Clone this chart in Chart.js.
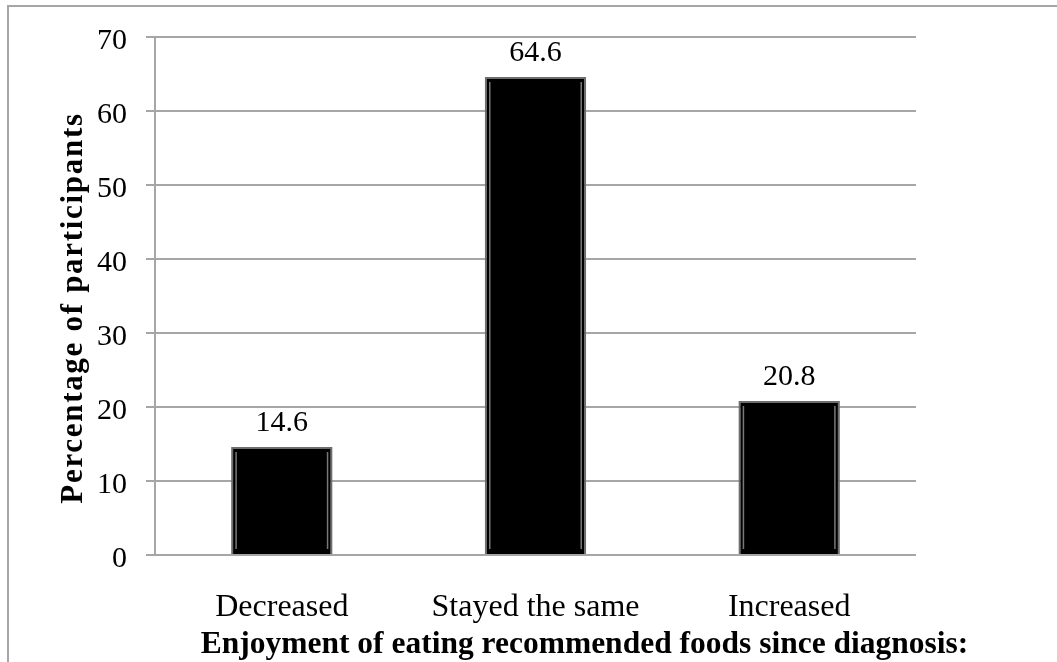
<!DOCTYPE html>
<html>
<head>
<meta charset="utf-8">
<script src="https://cdn.jsdelivr.net/npm/chart.js@4"></script>
<style>
  html, body { margin: 0; padding: 0; background: #ffffff; }
  #wrap { position: relative; width: 1057px; height: 662px; }
  canvas { display: block; }
</style>
</head>
<body>
<div id="wrap"><canvas id="c" width="1057" height="662"></canvas></div>
<script>
// Enjoyment of eating recommended foods since diagnosis
const categories = ['Decreased', 'Stayed the same', 'Increased'];
const percentages = [14.6, 64.6, 20.8];
const yTicks = [0, 10, 20, 30, 40, 50, 60, 70];
const xTitle = 'Enjoyment of eating recommended foods since diagnosis:';
const yTitle = 'Percentage of participants';

const FONT = "'Liberation Serif', 'Times New Roman', serif";

// Light frame along the left and top edges of the figure
const framePlugin = {
  id: 'frame',
  beforeDraw(chart) {
    const ctx = chart.ctx;
    ctx.save();
    ctx.strokeStyle = '#a6a6a6';
    ctx.lineWidth = 2;
    ctx.beginPath();
    ctx.moveTo(8, chart.height);
    ctx.lineTo(8, 6);
    ctx.lineTo(chart.width, 6);
    ctx.stroke();
    ctx.restore();
  }
};

// Bevel highlight inside each bar plus the value printed above it
const barDecorPlugin = {
  id: 'barDecor',
  afterDatasetsDraw(chart) {
    const ctx = chart.ctx;
    const meta = chart.getDatasetMeta(0);
    ctx.save();
    meta.data.forEach((bar, i) => {
      const left = bar.x - bar.width / 2;
      const right = bar.x + bar.width / 2;
      const top = bar.y;
      const bottom = bar.base;
      ctx.strokeStyle = 'rgba(150,150,150,0.8)';
      ctx.lineWidth = 1.5;
      ctx.beginPath();
      ctx.moveTo(left + 5, top + 5);
      ctx.lineTo(left + 5, bottom - 5);
      ctx.moveTo(right - 5, top + 5);
      ctx.lineTo(right - 5, bottom - 5);
      ctx.stroke();

      ctx.fillStyle = '#000';
      ctx.font = '30px ' + FONT;
      ctx.textAlign = 'center';
      ctx.textBaseline = 'alphabetic';
      ctx.fillText(String(percentages[i]), bar.x, top - 16);
    });
    ctx.restore();
  }
};

// Axis titles: the x title sits right of the plot centre, the y title is letter-spaced
const axisTitlePlugin = {
  id: 'axisTitles',
  afterDraw(chart) {
    const ctx = chart.ctx;
    const area = chart.chartArea;
    ctx.save();
    ctx.fillStyle = '#000';
    ctx.font = 'bold 31.5px ' + FONT;
    ctx.textAlign = 'center';
    ctx.textBaseline = 'alphabetic';
    ctx.fillText(xTitle, (area.left + area.right) / 2 + 49, area.bottom + 98);

    ctx.translate(82, (area.top + area.bottom) / 2 + 12);
    ctx.rotate(-Math.PI / 2);
    ctx.font = 'bold 31px ' + FONT;
    ctx.letterSpacing = '1.7px';
    ctx.fillText(yTitle, 0, 0);
    ctx.restore();
  }
};

new Chart(document.getElementById('c'), {
  type: 'bar',
  data: {
    labels: categories,
    datasets: [{
      data: percentages,
      backgroundColor: '#000000',
      borderColor: '#6e6e6e',
      borderWidth: 2,
      barPercentage: 0.8,
      categoryPercentage: 0.5
    }]
  },
  options: {
    responsive: false,
    animation: false,
    events: [],
    layout: { padding: { top: 37, right: 141, left: 0, bottom: 0 } },
    plugins: {
      legend: { display: false },
      tooltip: { enabled: false }
    },
    scales: {
      x: {
        grid: { display: false, drawTicks: false },
        border: { display: false },
        ticks: {
          color: '#000',
          font: { family: FONT, size: 32 },
          padding: 33,
          maxRotation: 0
        },
        afterFit(scale) { scale.height = 662 - 555; }
      },
      y: {
        min: 0,
        max: 70,
        afterBuildTicks(scale) { scale.ticks = yTicks.map(v => ({ value: v })); },
        grid: {
          color: '#a6a6a6',
          lineWidth: 2,
          tickLength: 9,
          drawTicks: true
        },
        border: { display: true, color: '#a6a6a6', width: 2 },
        ticks: {
          color: '#000',
          font: { family: FONT, size: 30 },
          padding: 19,
          labelOffset: 4
        },
        afterFit(scale) { scale.width = 155; }
      }
    }
  },
  plugins: [framePlugin, barDecorPlugin, axisTitlePlugin]
});
</script>
</body>
</html>
